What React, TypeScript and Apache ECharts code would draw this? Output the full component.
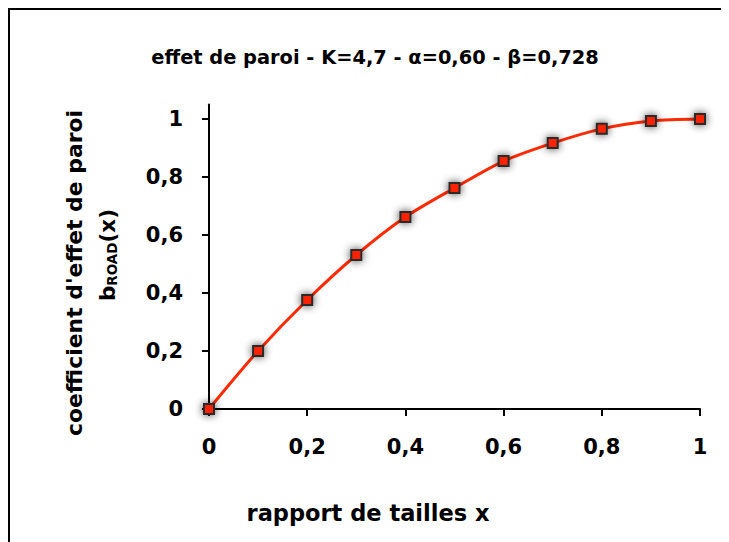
import React, { useEffect, useRef } from "react";
import * as echarts from "echarts";

const xValues = [0, 0.1, 0.2, 0.3, 0.4, 0.5, 0.6, 0.7, 0.8, 0.9, 1.0];
const yValues = [0, 0.2, 0.376, 0.531, 0.662, 0.762, 0.855, 0.917, 0.966, 0.993, 1.0];
const xTicks = [0, 0.2, 0.4, 0.6, 0.8, 1];
const yTicks = [0, 0.2, 0.4, 0.6, 0.8, 1];
const titleText = "effet de paroi - K=4,7 - \u03b1=0,60 - \u03b2=0,728";
const xName = "rapport de tailles x";
const yName1 = "coefficient d'effet de paroi";

const FONT = "'DejaVu Sans', 'Open Sans', sans-serif";
const fmt = (v: number) => String(+Number(v).toFixed(1)).replace(".", ",");

export default function App() {
  const ref = useRef<HTMLDivElement>(null);
  useEffect(() => {
    if (!ref.current) return;
    const chart = echarts.init(ref.current, null, { renderer: "svg" });
    const data = xValues.map((x, i) => [x, yValues[i]]);
    chart.setOption({
      animation: false,
      backgroundColor: "#fff",
      textStyle: { fontFamily: FONT },
      grid: { left: 201, right: 29, top: 96.5, bottom: 133 },
      xAxis: {
        type: "value",
        min: 0,
        max: 1,
        interval: 0.2,
        axisLine: { show: true, onZero: false, lineStyle: { color: "#000", width: 2 } },
        axisTick: { show: true, length: 7, inside: false, lineStyle: { color: "#000", width: 2 }, customValues: xTicks },
        axisLabel: {
          customValues: xTicks,
          formatter: fmt,
          color: "#000",
          fontSize: 21,
          fontWeight: "bold",
          fontFamily: FONT,
          margin: 27,
        },
        splitLine: { show: false },
      },
      yAxis: {
        type: "value",
        min: 0,
        max: 1.05,
        interval: 0.2,
        axisLine: { show: true, lineStyle: { color: "#000", width: 2 } },
        axisTick: { show: true, length: 7, inside: false, lineStyle: { color: "#000", width: 2 }, customValues: yTicks },
        axisLabel: {
          customValues: yTicks,
          formatter: fmt,
          color: "#000",
          fontSize: 21,
          fontWeight: "bold",
          fontFamily: FONT,
          margin: 26,
        },
        splitLine: { show: false },
      },
      series: [
        {
          type: "line",
          data,
          smooth: 0.3,
          clip: false,
          symbol: "rect",
          symbolSize: 10,
          showAllSymbol: true,
          lineStyle: { color: "#ff2a00", width: 3 },
          itemStyle: {
            color: "#ff2000",
            borderColor: "#2a2a2a",
            borderWidth: 2,
            shadowBlur: 9,
            shadowColor: "rgba(0,0,0,0.75)",
          },
          z: 3,
        },
      ],
      graphic: [
        {
          type: "rect",
          shape: { x: 1, y: 1, width: 1000, height: 1000 },
          style: { fill: "none", stroke: "#000", lineWidth: 2 },
          silent: true,
        },
        {
          type: "text",
          x: 367,
          y: 49,
          style: {
            text: titleText,
            fontSize: 19.4,
            fontWeight: "bold",
            fontFamily: FONT,
            fill: "#000",
            align: "center",
            verticalAlign: "middle",
          },
        },
        {
          type: "text",
          x: 360,
          y: 505,
          style: {
            text: xName,
            fontSize: 22.5,
            fontWeight: "bold",
            fontFamily: FONT,
            fill: "#000",
            align: "center",
            verticalAlign: "middle",
          },
        },
        {
          type: "text",
          x: 66,
          y: 265,
          rotation: Math.PI / 2,
          style: {
            text: yName1,
            fontSize: 21.9,
            fontWeight: "bold",
            fontFamily: FONT,
            fill: "#000",
            align: "center",
            verticalAlign: "middle",
          },
        },
        {
          type: "text",
          x: 99,
          y: 247,
          rotation: Math.PI / 2,
          style: {
            text: "{b|b}{s|ROAD}{b|(x)}",
            fontFamily: FONT,
            fill: "#000",
            align: "center",
            verticalAlign: "middle",
            rich: {
              b: { fontSize: 21.5, fontWeight: "bold", fontFamily: FONT, fill: "#000" },
              s: { fontSize: 13.5, fontWeight: "bold", fontFamily: FONT, fill: "#000", padding: [10, 0, 0, 0] },
            },
          },
        },
      ],
    });
    return () => chart.dispose();
  }, []);
  return <div ref={ref} style={{ width: 721, height: 534 }} />;
}
